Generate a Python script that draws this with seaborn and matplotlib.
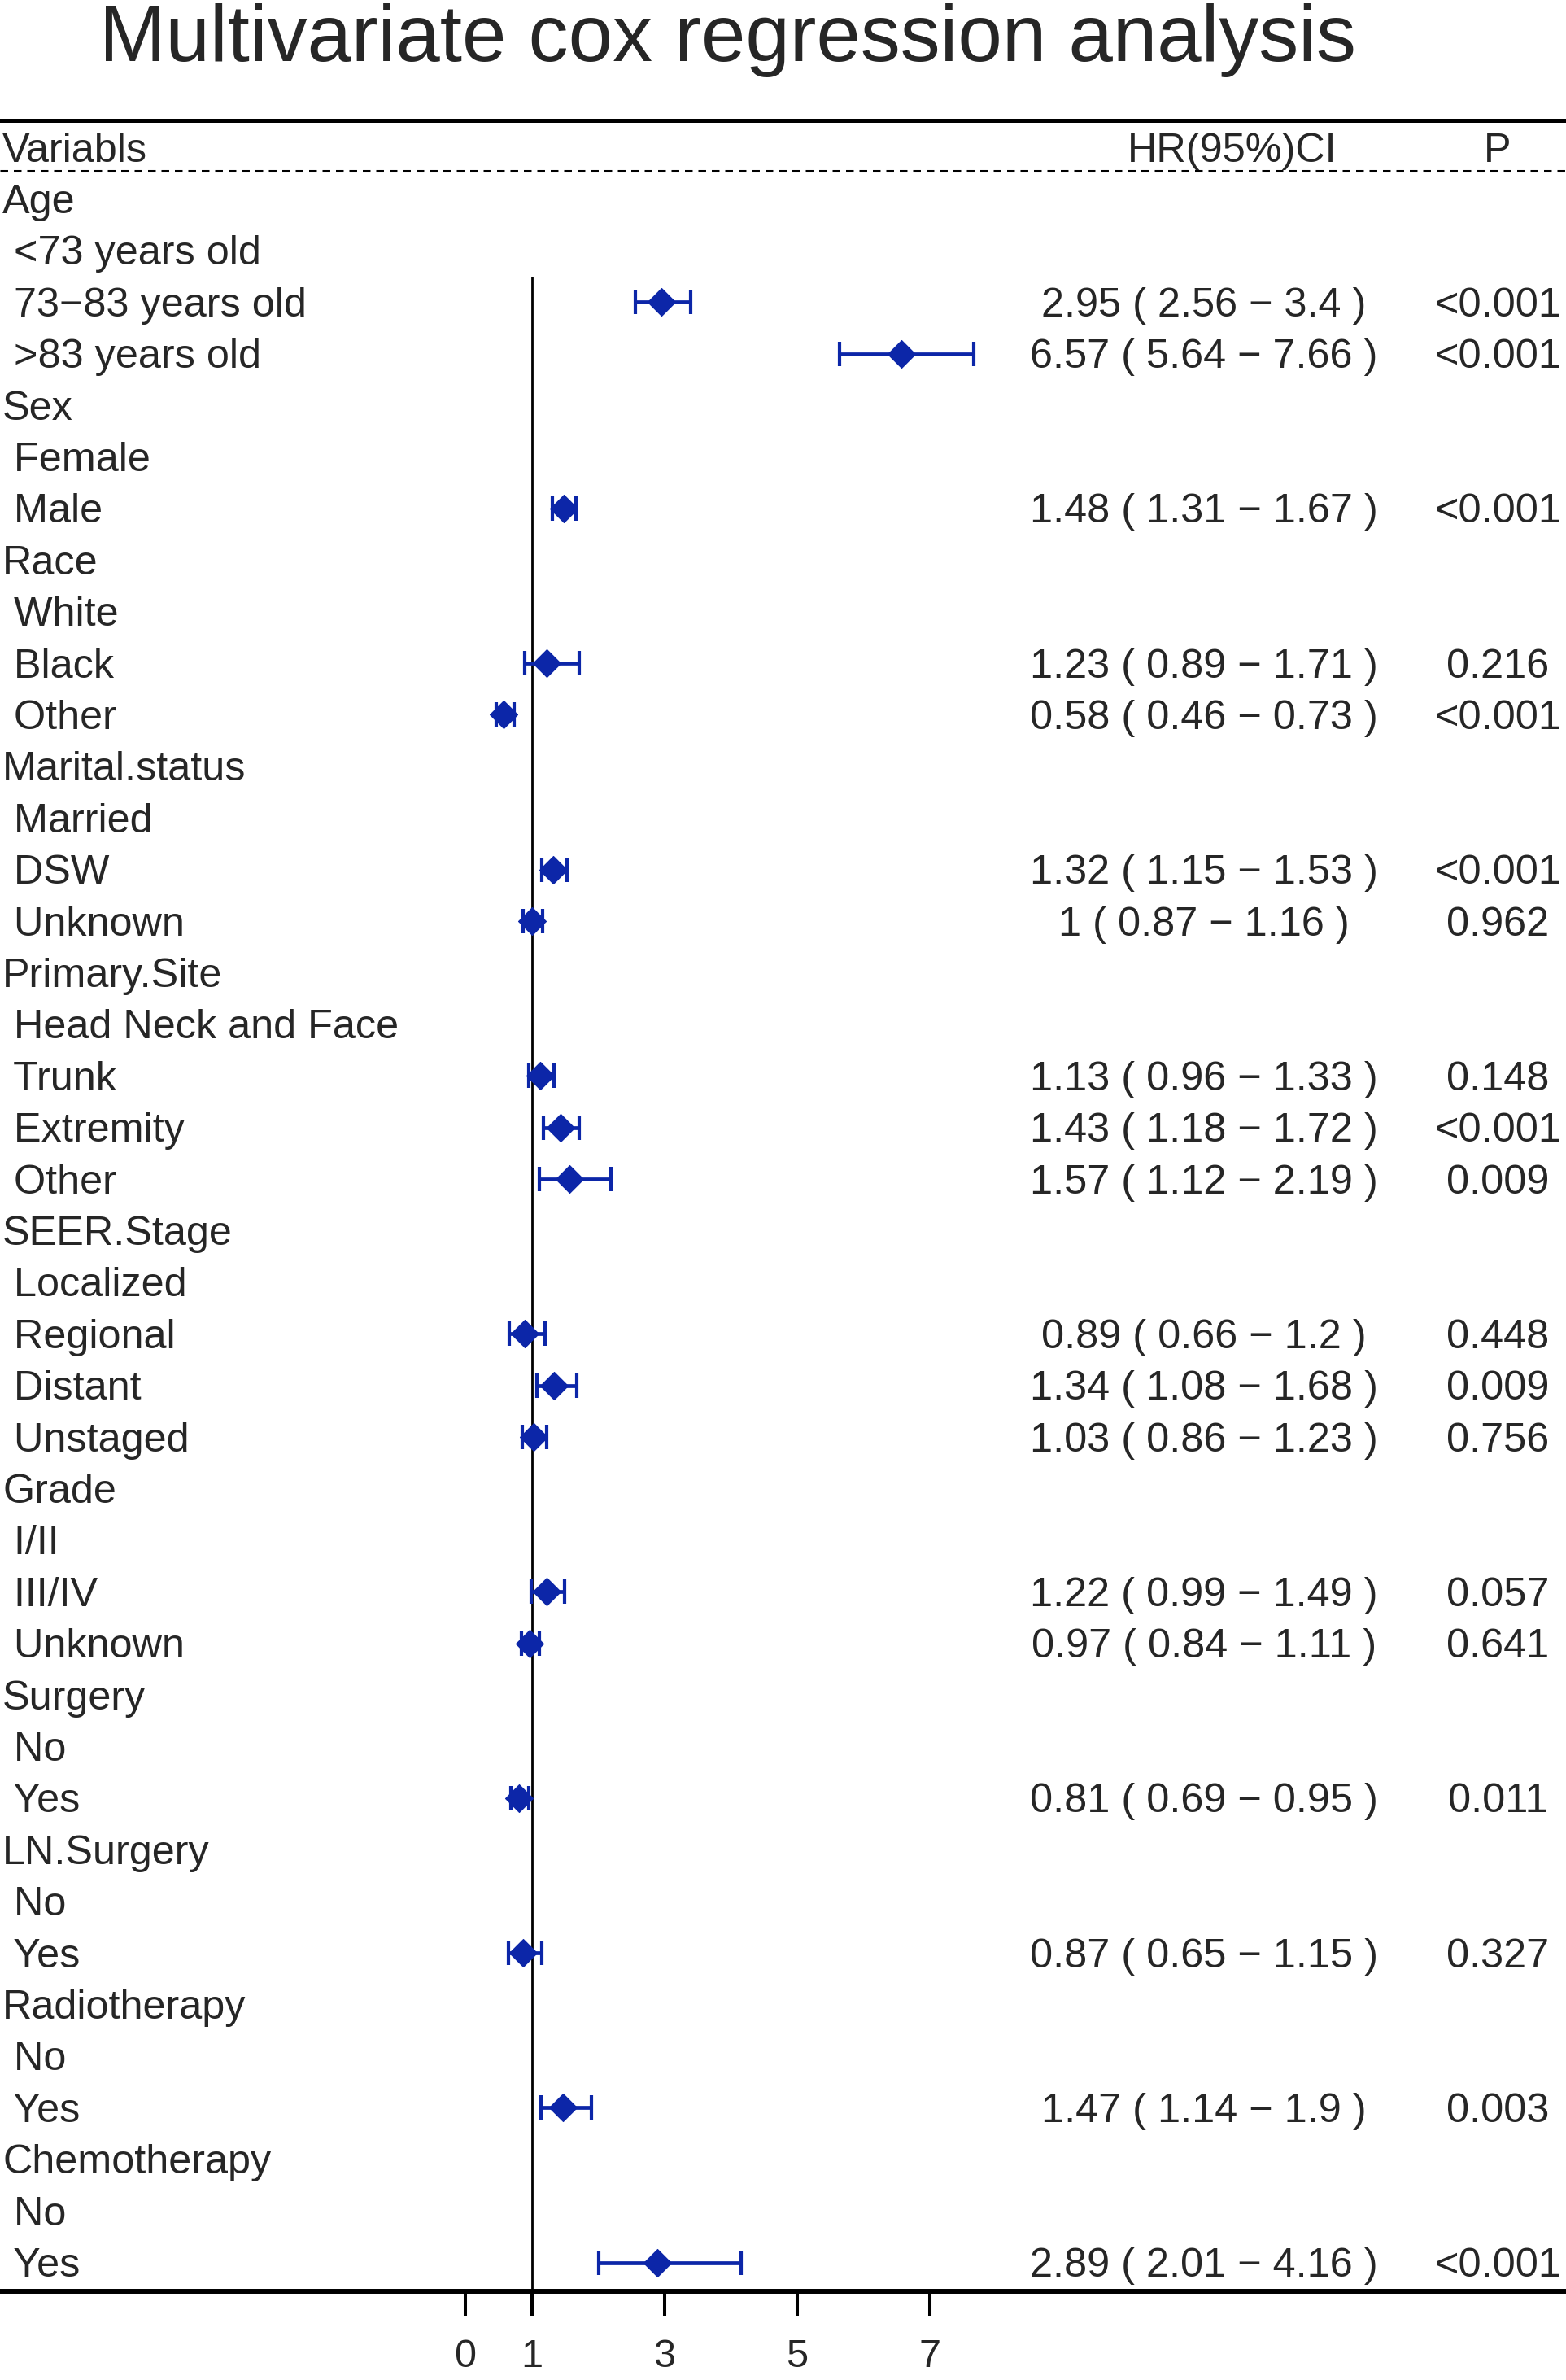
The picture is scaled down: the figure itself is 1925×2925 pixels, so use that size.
import numpy as np
import pandas as pd
import matplotlib
matplotlib.use("Agg")
import matplotlib.pyplot as plt
import seaborn as sns
from matplotlib.transforms import blended_transform_factory

# ---------------- data ----------------
title = "Multivariate cox regression analysis"
col_headers = ["Variabls", "HR(95%)CI", "P"]

labels = ["Age", "<73 years old", "73\u221283 years old", ">83 years old",
          "Sex", "Female", "Male",
          "Race", "White", "Black", "Other",
          "Marital.status", "Married", "DSW", "Unknown",
          "Primary.Site", "Head Neck and Face", "Trunk", "Extremity", "Other",
          "SEER.Stage", "Localized", "Regional", "Distant", "Unstaged",
          "Grade", "I/II", "III/IV", "Unknown",
          "Surgery", "No", "Yes",
          "LN.Surgery", "No", "Yes",
          "Radiotherapy", "No", "Yes",
          "Chemotherapy", "No", "Yes"]
is_group = [1, 0, 0, 0,
            1, 0, 0,
            1, 0, 0, 0,
            1, 0, 0, 0,
            1, 0, 0, 0, 0,
            1, 0, 0, 0, 0,
            1, 0, 0, 0,
            1, 0, 0,
            1, 0, 0,
            1, 0, 0,
            1, 0, 0]
nan = np.nan
hr = [nan, nan, 2.95, 6.57,
      nan, nan, 1.48,
      nan, nan, 1.23, 0.58,
      nan, nan, 1.32, 1.00,
      nan, nan, 1.13, 1.43, 1.57,
      nan, nan, 0.89, 1.34, 1.03,
      nan, nan, 1.22, 0.97,
      nan, nan, 0.81,
      nan, nan, 0.87,
      nan, nan, 1.47,
      nan, nan, 2.89]
lower = [nan, nan, 2.56, 5.64,
         nan, nan, 1.31,
         nan, nan, 0.89, 0.46,
         nan, nan, 1.15, 0.87,
         nan, nan, 0.96, 1.18, 1.12,
         nan, nan, 0.66, 1.08, 0.86,
         nan, nan, 0.99, 0.84,
         nan, nan, 0.69,
         nan, nan, 0.65,
         nan, nan, 1.14,
         nan, nan, 2.01]
upper = [nan, nan, 3.40, 7.66,
         nan, nan, 1.67,
         nan, nan, 1.71, 0.73,
         nan, nan, 1.53, 1.16,
         nan, nan, 1.33, 1.72, 2.19,
         nan, nan, 1.20, 1.68, 1.23,
         nan, nan, 1.49, 1.11,
         nan, nan, 0.95,
         nan, nan, 1.15,
         nan, nan, 1.90,
         nan, nan, 4.16]
p_text = ["", "", "<0.001", "<0.001",
          "", "", "<0.001",
          "", "", "0.216", "<0.001",
          "", "", "<0.001", "0.962",
          "", "", "0.148", "<0.001", "0.009",
          "", "", "0.448", "0.009", "0.756",
          "", "", "0.057", "0.641",
          "", "", "0.011",
          "", "", "0.327",
          "", "", "0.003",
          "", "", "<0.001"]
x_ticks = [0, 1, 3, 5, 7]
ref_value = 1

# ---------------- style ----------------
sns.set_style("white")
plt.rcParams["font.family"] = ["Liberation Sans", "DejaVu Sans"]
plt.rcParams["axes.unicode_minus"] = False

W, H, DPI = 1925, 2925, 100
FS = 36.3        # row text size (pt)
BLUE = "#0C26A8"
TXT_OFF = 0.276  # baseline offset of text below row centre (row units)

fig = plt.figure(figsize=(W / DPI, H / DPI), dpi=DPI)
ax_bottom_px, ax_top_px = 2816, 148
ax = fig.add_axes([0, (H - ax_bottom_px) / H, 1, (ax_bottom_px - ax_top_px) / H])

px_per_unit = 81.6
x0_px = 572
ax.set_xlim(-x0_px / px_per_unit, (W - x0_px) / px_per_unit)
row_px = 63.4
row1_px = 244.5
ax.set_ylim((ax_bottom_px - row1_px) / row_px + 1, (ax_top_px - row1_px) / row_px + 1)

rows = np.arange(1, len(labels) + 1)
df = pd.DataFrame({"row": rows, "label": labels, "group": is_group,
                   "hr": hr, "lo": lower, "hi": upper, "p": p_text})
est = df.dropna(subset=["hr"])

# reference line
ax.vlines(ref_value, 2.5, ax.get_ylim()[0], color="black", lw=2.0, zorder=1)

# CI bars
ax.errorbar(est["hr"], est["row"],
            xerr=[est["hr"] - est["lo"], est["hi"] - est["hr"]],
            fmt="none", ecolor=BLUE, elinewidth=3.4, capsize=10.5, capthick=3.0, zorder=2)
# point estimates
sns.scatterplot(data=est, x="hr", y="row", marker="D", s=300, color=BLUE,
                edgecolor=BLUE, linewidth=0.8, ax=ax, legend=False, zorder=3)

# axes styling
for side in ["left", "right"]:
    ax.spines[side].set_visible(False)
ax.spines["top"].set_linewidth(3.6)
ax.spines["bottom"].set_linewidth(4.3)
ax.spines["top"].set_color("black")
ax.spines["bottom"].set_color("black")
ax.set_xticks(x_ticks)
ax.set_xticklabels([str(t) for t in x_ticks])
ax.set_yticks([])
ax.tick_params(axis="x", direction="out", length=21.5, width=2.9, pad=20,
               labelsize=35, color="black", bottom=True)
ax.set_xlabel("")
ax.set_ylabel("")
ax.grid(False)

# dashed line under header
ax.axhline(0.456, color="black", lw=2.2, linestyle=(0, (3.1, 2.3)))

tr = blended_transform_factory(ax.transAxes, ax.transData)
x_lab = 3 / W
x_hr = 1480 / W
x_hdr_hr = 1515 / W
x_p = 1841 / W

# header
ax.text(x_lab, 0 + TXT_OFF, col_headers[0], transform=tr, ha="left", va="baseline", fontsize=FS)
ax.text(x_hdr_hr, 0 + TXT_OFF, col_headers[1], transform=tr, ha="center", va="baseline", fontsize=FS)
ax.text(x_p, 0 + TXT_OFF, col_headers[2], transform=tr, ha="center", va="baseline", fontsize=FS)

for _, r in df.iterrows():
    lab = r["label"] if r["group"] else " " + r["label"]
    ax.text(x_lab, r["row"] + TXT_OFF, lab, transform=tr, ha="left", va="baseline", fontsize=FS)
    if not np.isnan(r["hr"]):
        s = f"{r['hr']:g} ( {r['lo']:g} \u2212 {r['hi']:g} )"
        ax.text(x_hr, r["row"] + TXT_OFF, s, transform=tr, ha="center", va="baseline", fontsize=FS)
        ax.text(x_p, r["row"] + TXT_OFF, r["p"], transform=tr, ha="center", va="baseline", fontsize=FS)

fig.text(894 / W, 1 - 75 / H, title, ha="center", va="baseline", fontsize=70.5)

fig.savefig("out.png", dpi=DPI)
